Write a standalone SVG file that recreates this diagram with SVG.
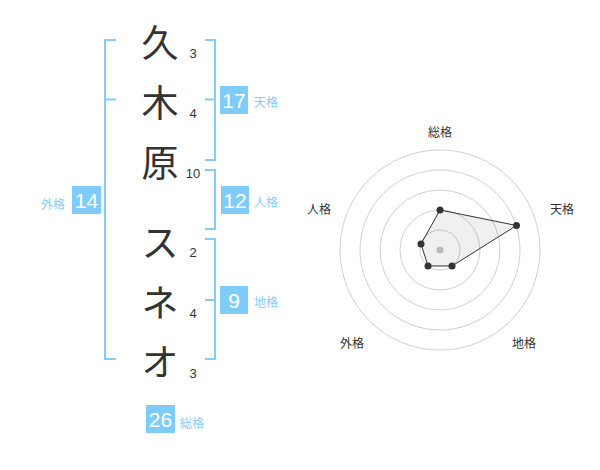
<svg xmlns="http://www.w3.org/2000/svg" width="600" height="470" viewBox="0 0 600 470">
<style>
.ch{font-family:"Noto Sans CJK JP",sans-serif;font-size:37px;fill:#333;text-anchor:middle;dominant-baseline:central}
.sc{font-family:"Liberation Sans","Noto Sans CJK JP",sans-serif;font-size:13px;fill:#333;text-anchor:middle;dominant-baseline:central}
.br{fill:none;stroke:#85cdf8;stroke-width:2}
.box{fill:#80ccf8}
.bn{font-family:"Liberation Sans","Noto Sans CJK JP",sans-serif;font-size:21px;fill:#fff;text-anchor:middle;dominant-baseline:central}
.bl{font-family:"Noto Sans CJK JP",sans-serif;font-size:12px;fill:#85cdf8;dominant-baseline:central}
.ring{fill:none;stroke:#d0d0d0;stroke-width:1}
.rl{font-family:"Noto Sans CJK JP",sans-serif;font-size:12px;fill:#333;text-anchor:middle;dominant-baseline:central}
.pt{fill:#333}
</style>
<rect width="600" height="470" fill="#fff"/>
<g id="name">
<g id="c1"><text class="ch" x="160" y="41">久</text><text class="sc" x="193" y="53">3</text></g>
<g id="c2"><text class="ch" x="160" y="101">木</text><text class="sc" x="193" y="113">4</text></g>
<g id="c3"><text class="ch" x="160" y="161">原</text><text class="sc" x="193" y="173">10</text></g>
<g id="c4"><text class="ch" x="160" y="241">ス</text><text class="sc" x="193" y="252">2</text></g>
<g id="c5"><text class="ch" x="160" y="301">ネ</text><text class="sc" x="193" y="313">4</text></g>
<g id="c6"><text class="ch" x="160" y="360">オ</text><text class="sc" x="193" y="373">3</text></g>
</g>
<g id="connectors">
<path class="br" d="M116,40H105V359H116M105,99.5H116"/>
<path class="br" d="M205,40H215V160H205M215,99.5H205"/>
<path class="br" d="M205,170H215V229H205"/>
<path class="br" d="M205,239H215V359H205M215,300H205"/>
</g>
<g id="tenkaku"><rect class="box" x="220" y="86" width="28" height="28"/><text class="bn" x="234" y="100.5">17</text><text class="bl" x="254" y="101.5">天格</text></g>
<g id="jinkaku"><rect class="box" x="221" y="186" width="28" height="28"/><text class="bn" x="235" y="200.5">12</text><text class="bl" x="254" y="201.5">人格</text></g>
<g id="chikaku"><rect class="box" x="220" y="286" width="28" height="28"/><text class="bn" x="234" y="300.5">9</text><text class="bl" x="254" y="301.5">地格</text></g>
<g id="gaikaku"><rect class="box" x="72" y="186" width="29" height="28"/><text class="bn" x="86.5" y="200.5">14</text><text class="bl" x="41" y="203">外格</text></g>
<g id="soukaku"><rect class="box" x="146" y="405" width="29" height="28"/><text class="bn" x="160.5" y="419.5">26</text><text class="bl" x="180" y="422">総格</text></g>
<g id="radar">
<circle class="ring" cx="440" cy="250" r="100"/>
<circle class="ring" cx="440" cy="250" r="80"/>
<circle class="ring" cx="440" cy="250" r="60"/>
<circle class="ring" cx="440" cy="250" r="40"/>
<circle class="ring" cx="440" cy="250" r="20"/>
<circle cx="440" cy="250" r="3.5" fill="#c8c8c8"/>
<polygon points="440,210 516.5,225.5 452,266 428,266 421,244" fill="#000" fill-opacity="0.06" stroke="#333" stroke-width="1"/>
<circle class="pt" cx="440" cy="210" r="3.5"/>
<circle class="pt" cx="516.5" cy="225.5" r="3.5"/>
<circle class="pt" cx="452" cy="266" r="3.5"/>
<circle class="pt" cx="428" cy="266" r="3.5"/>
<circle class="pt" cx="421" cy="244" r="3.5"/>
<text class="rl" x="440" y="131">総格</text>
<text class="rl" x="562" y="208.5">天格</text>
<text class="rl" x="524" y="342.5">地格</text>
<text class="rl" x="352" y="342.5">外格</text>
<text class="rl" x="319" y="208.5">人格</text>
</g>
</svg>
